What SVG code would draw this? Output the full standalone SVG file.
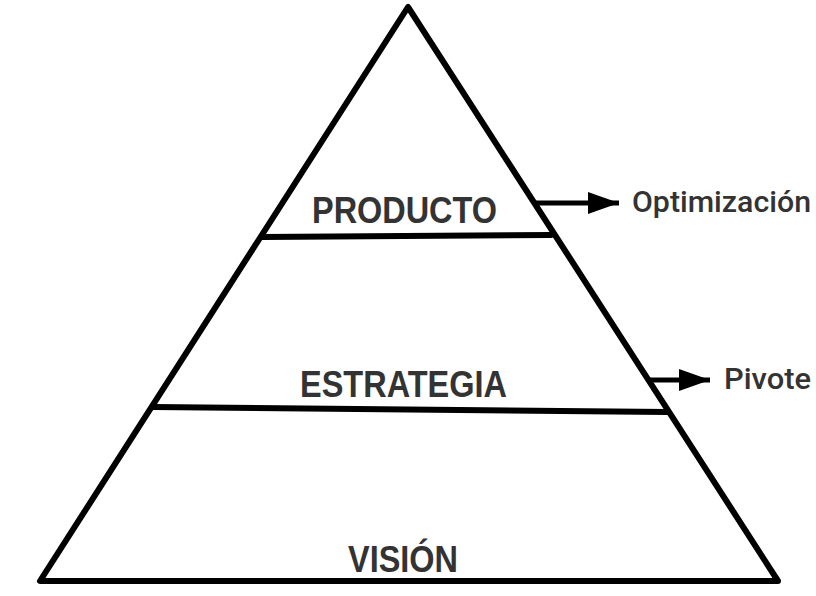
<svg xmlns="http://www.w3.org/2000/svg" width="816" height="596" viewBox="0 0 816 596">
<defs>
<style>
.edge{fill:none;stroke:#000;stroke-width:6;stroke-linejoin:round;stroke-linecap:round}
.lvl{fill:#333;font-family:"Liberation Sans",Arial,sans-serif;font-weight:bold;font-size:37px}
.lbl{fill:#333;font-family:Roboto,"Liberation Sans",Arial,sans-serif;font-weight:500;font-size:30px}
.arr{stroke:#000;stroke-width:5;fill:none}
</style>
<marker id="ah" markerUnits="userSpaceOnUse" markerWidth="32" markerHeight="22" refX="31" refY="11" orient="auto">
<path d="M0,0 L31,11 L0,22 Z" fill="#000"/>
</marker>
</defs>
<rect width="816" height="596" fill="#fff"/>
<g id="pyramid">
<path class="edge" d="M408,7 L40,581 L778,581 Z"/>
</g>
<g id="producto">
<line class="edge" x1="262" y1="237" x2="551" y2="235"/>
<text class="lvl" x="312" y="223" textLength="185" lengthAdjust="spacingAndGlyphs">PRODUCTO</text>
</g>
<g id="estrategia">
<line class="edge" x1="153" y1="407" x2="667" y2="412"/>
<text class="lvl" x="300" y="397" textLength="207" lengthAdjust="spacingAndGlyphs">ESTRATEGIA</text>
</g>
<g id="vision">
<text class="lvl" x="348" y="572" textLength="110" lengthAdjust="spacingAndGlyphs">VISIÓN</text>
</g>
<g id="optimizacion">
<text class="lbl" x="632" y="212" textLength="179" lengthAdjust="spacingAndGlyphs">Optimización</text>
</g>
<g id="pivote">
<text class="lbl" x="724" y="389" textLength="87" lengthAdjust="spacingAndGlyphs">Pivote</text>
</g>
<g id="connectors">
<line class="arr" x1="534" y1="203" x2="619" y2="203" marker-end="url(#ah)"/>
<line class="arr" x1="648" y1="380" x2="710" y2="380" marker-end="url(#ah)"/>
</g>
</svg>
